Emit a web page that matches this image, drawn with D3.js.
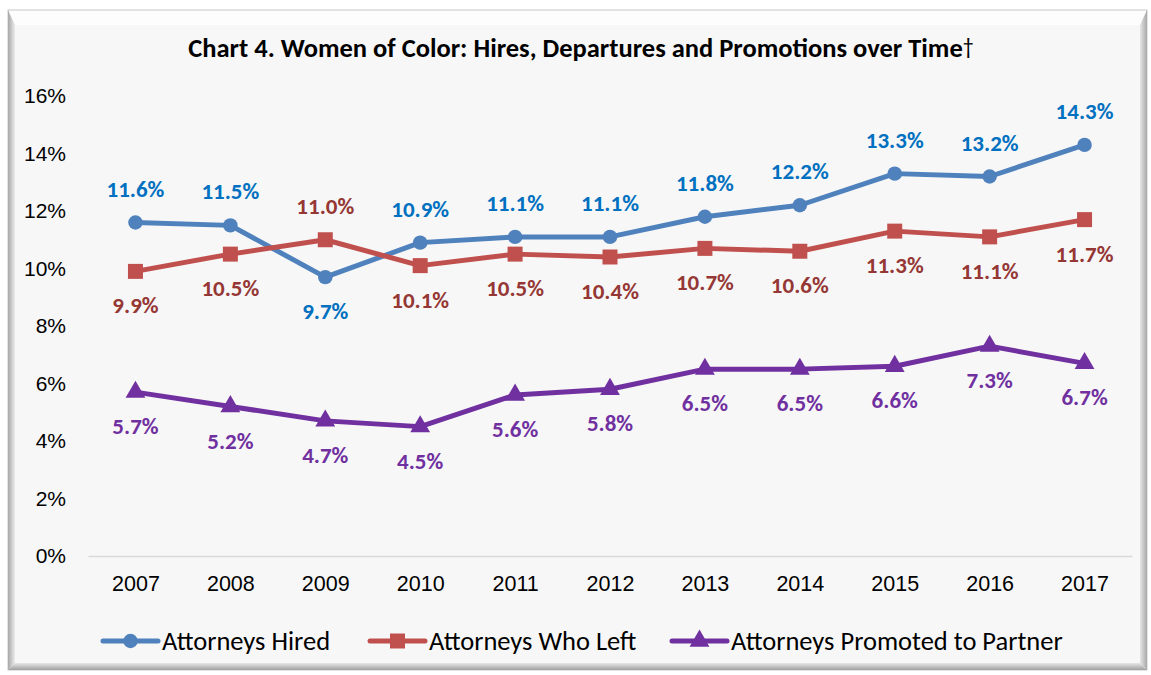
<!DOCTYPE html>
<html>
<head>
<meta charset="utf-8">
<script src="https://cdn.jsdelivr.net/npm/d3@7"></script>
<style>
  body { margin: 0; background: #fff; }
  svg { display: block; font-family: Carlito, Calibri, Lato, "Open Sans", sans-serif; }
</style>
</head>
<body>
<div id="chart"></div>
<script>
var years = ["2007", "2008", "2009", "2010", "2011", "2012", "2013", "2014", "2015", "2016", "2017"];
var hired = [11.6, 11.5, 9.7, 10.9, 11.1, 11.1, 11.8, 12.2, 13.3, 13.2, 14.3];
var left = [9.9, 10.5, 11.0, 10.1, 10.5, 10.4, 10.7, 10.6, 11.3, 11.1, 11.7];
var promoted = [5.7, 5.2, 4.7, 4.5, 5.6, 5.8, 6.5, 6.5, 6.6, 7.3, 6.7];
var yTicks = [0, 2, 4, 6, 8, 10, 12, 14, 16];
// which labels sit above (-1) or below (+1) their point
var hiredSide = [-1, -1, 1, -1, -1, -1, -1, -1, -1, -1, -1];
var leftSide = [1, 1, -1, 1, 1, 1, 1, 1, 1, 1, 1];
var promotedSide = [1, 1, 1, 1, 1, 1, 1, 1, 1, 1, 1];

var svgWidth = 1151;
var svgHeight = 675;

var svg = d3.select("#chart")
  .append("svg")
  .attr("width", svgWidth)
  .attr("height", svgHeight);

// frame with bevel
var defs = svg.append("defs");
var lg = defs.append("linearGradient").attr("id", "leftEdge").attr("x1", 0).attr("x2", 1);
lg.append("stop").attr("offset", 0).attr("stop-color", "#a8a8a8");
lg.append("stop").attr("offset", 1).attr("stop-color", "#ececec");
var rg = defs.append("linearGradient").attr("id", "rightEdge").attr("x1", 0).attr("x2", 1);
rg.append("stop").attr("offset", 0).attr("stop-color", "#e6e6e6");
rg.append("stop").attr("offset", 1).attr("stop-color", "#a8a8a8");
var bg = defs.append("linearGradient").attr("id", "bottomEdge").attr("x1", 0).attr("x2", 0).attr("y1", 0).attr("y2", 1);
bg.append("stop").attr("offset", 0).attr("stop-color", "#e6e6e6");
bg.append("stop").attr("offset", 1).attr("stop-color", "#a0a0a0");

var fx0 = 8, fy0 = 10, fx1 = 1147, fy1 = 670, bw = 7, bt = 15;
svg.append("rect").attr("x", fx0).attr("y", fy0).attr("width", fx1 - fx0).attr("height", fy1 - fy0)
  .attr("fill", "#fdfdfd").attr("stroke", "#c8c8c8");
svg.append("polygon")
  .attr("points", [[fx0, fy0], [fx0 + bw, fy0 + bt], [fx0 + bw, fy1 - bw], [fx0, fy1]].join(" "))
  .attr("fill", "url(#leftEdge)");
svg.append("polygon")
  .attr("points", [[fx1, fy0], [fx1 - bw, fy0 + bt], [fx1 - bw, fy1 - bw], [fx1, fy1]].join(" "))
  .attr("fill", "url(#rightEdge)");
svg.append("polygon")
  .attr("points", [[fx0, fy1], [fx0 + bw, fy1 - bw], [fx1 - bw, fy1 - bw], [fx1, fy1]].join(" "))
  .attr("fill", "url(#bottomEdge)");
svg.append("rect").attr("x", fx0 + bw).attr("y", fy0 + bt)
  .attr("width", fx1 - fx0 - 2 * bw).attr("height", fy1 - fy0 - bt - bw)
  .attr("fill", "#f7f7f7");

var margin = { top: 96, right: 19, bottom: 119, left: 88 };
var width = svgWidth - margin.left - margin.right;
var height = svgHeight - margin.top - margin.bottom;

var chartGroup = svg.append("g")
  .attr("transform", `translate(${margin.left}, ${margin.top})`);

var xScale = d3.scalePoint().domain(years).range([0, width]).padding(0.5);
var yScale = d3.scaleLinear().domain([0, 16]).range([height, 0]);

// title
var title = svg.append("text")
  .attr("x", 581)
  .attr("y", 57)
  .attr("text-anchor", "middle")
  .attr("font-size", "26.5px")
  .attr("font-weight", "bold")
  .attr("fill", "#000");
title.append("tspan").text("Chart 4. Women of Color: Hires, Departures and Promotions over Time");
title.append("tspan").attr("font-weight", "normal").attr("font-size", "22px").attr("dy", -3).text("†");

// axes
var leftAxis = d3.axisLeft(yScale).tickValues(yTicks).tickFormat(d => d + "%").tickSize(0).tickPadding(22);
var yAxis = chartGroup.append("g").call(leftAxis);
yAxis.select(".domain").remove();
yAxis.selectAll("text").attr("font-size", "21px").attr("fill", "#000").attr("font-family", "inherit");

var bottomAxis = d3.axisBottom(xScale).tickSize(0).tickPadding(20);
var xAxis = chartGroup.append("g")
  .attr("transform", `translate(0, ${height})`)
  .call(bottomAxis);
xAxis.select(".domain").attr("stroke", "#d9d9d9").attr("stroke-width", 1.5);
xAxis.selectAll("text").attr("font-size", "21.5px").attr("fill", "#000").attr("font-family", "inherit");

var series = [
  { name: "Attorneys Hired", values: hired, side: hiredSide, line: "#4f81bd", label: "#0070c0", marker: "circle" },
  { name: "Attorneys Who Left", values: left, side: leftSide, line: "#c0504d", label: "#953735", marker: "square" },
  { name: "Attorneys Promoted to Partner", values: promoted, side: promotedSide, line: "#7030a0", label: "#7030a0", marker: "triangle" }
];

var symbolFor = {
  circle: d3.symbol().type(d3.symbolCircle).size(165),
  square: d3.symbol().type(d3.symbolSquare).size(225),
  triangle: d3.symbol().type(d3.symbolTriangle).size(170)
};

var line = d3.line()
  .x((d, i) => xScale(years[i]))
  .y(d => yScale(d));

series.forEach(function(s) {
  chartGroup.append("path")
    .datum(s.values)
    .attr("d", line)
    .attr("fill", "none")
    .attr("stroke", s.line)
    .attr("stroke-width", 5)
    .attr("stroke-linejoin", "round");

  chartGroup.selectAll(null)
    .data(s.values)
    .enter()
    .append("path")
    .attr("d", symbolFor[s.marker])
    .attr("transform", (d, i) => `translate(${xScale(years[i])}, ${yScale(d)})`)
    .attr("fill", s.line);
});

series.forEach(function(s) {
  chartGroup.selectAll(null)
    .data(s.values)
    .enter()
    .append("text")
    .attr("x", (d, i) => xScale(years[i]))
    .attr("y", (d, i) => yScale(d) + s.side[i] * 34)
    .attr("dy", "0.35em")
    .attr("text-anchor", "middle")
    .attr("font-size", "23px")
    .attr("font-weight", "bold")
    .attr("fill", s.label)
    .text(d => d.toFixed(1) + "%");
});

// legend
var legendX = [103, 370, 672];
var legend = svg.append("g").attr("transform", "translate(0, 641)");
series.forEach(function(s, i) {
  var g = legend.append("g").attr("transform", `translate(${legendX[i]}, 0)`);
  g.append("line").attr("x1", 0).attr("x2", 55).attr("y1", 0).attr("y2", 0)
    .attr("stroke", s.line).attr("stroke-width", 5).attr("stroke-linecap", "round");
  g.append("path").attr("d", symbolFor[s.marker]).attr("transform", "translate(27.5, 0)").attr("fill", s.line);
  g.append("text").attr("x", 59).attr("y", 0).attr("dy", "0.35em")
    .attr("font-size", "26.5px").attr("fill", "#000").text(s.name);
});
</script>
</body>
</html>
